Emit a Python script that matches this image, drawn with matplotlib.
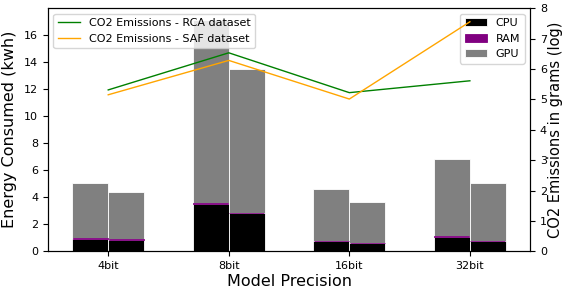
import matplotlib
matplotlib.use("Agg")
import matplotlib.pyplot as plt
import numpy as np

categories = ["4bit", "8bit", "16bit", "32bit"]
# two bars per category: (first run, second run)
cpu_a = [0.93, 3.49, 0.76, 1.10]
ram_a = [0.06, 0.07, 0.03, 0.05]
gpu_a = [4.03, 13.54, 3.78, 5.65]
cpu_b = [0.88, 2.82, 0.61, 0.76]
ram_b = [0.04, 0.05, 0.02, 0.02]
gpu_b = [3.46, 10.60, 3.05, 4.24]

co2_rca = [5.31, 6.53, 5.22, 5.61]
co2_saf = [5.15, 6.28, 5.01, 7.55]

x = np.arange(len(categories))
w = 0.3

fig, ax = plt.subplots(figsize=(5.64, 2.89), dpi=100)
fig.subplots_adjust(left=0.085, right=0.94, top=0.972, bottom=0.13)

for off, cpu, ram, gpu in [(-w / 2, cpu_a, ram_a, gpu_a), (w / 2, cpu_b, ram_b, gpu_b)]:
    cpu = np.array(cpu); ram = np.array(ram); gpu = np.array(gpu)
    ax.bar(x + off, cpu, w, color="black", edgecolor="white", linewidth=0.6, label="CPU" if off < 0 else None)
    ax.bar(x + off, gpu, w, bottom=cpu + ram, color="gray", edgecolor="white", linewidth=0.6, label=None)
    ax.bar(x + off - w / 2 + 0.005, ram, w - 0.01, bottom=cpu, align="edge", color="purple",
           edgecolor="purple", linewidth=0.6, zorder=3, label="RAM" if off < 0 else None)
    if off < 0:
        ax.bar([np.nan], [0], w, color="gray", edgecolor="white", linewidth=0.6, label="GPU")

ax.set_xticks(x)
ax.set_xticklabels(categories, fontsize=8)
ax.tick_params(axis="y", labelsize=8)
ax.set_xlim(-0.5, 3.5)
ax.set_xlabel("Model Precision", fontsize=11.5, labelpad=2)
ax.set_ylabel("Energy Consumed (kwh)", fontsize=11.5, labelpad=5)
ax.legend(loc="upper right", fontsize=8)

ax2 = ax.twinx()
ax2.plot(x, co2_rca, color="green", linewidth=1, label="CO2 Emissions - RCA dataset")
ax2.plot(x, co2_saf, color="orange", linewidth=1, label="CO2 Emissions - SAF dataset")
ax2.set_ylim(0, 8)
ax2.tick_params(axis="y", labelsize=8)
ax2.set_ylabel("CO2 Emissions in grams (log)", fontsize=10.5, labelpad=1)
ax2.legend(loc="upper left", fontsize=8)

fig.savefig("out.png", dpi=100)
